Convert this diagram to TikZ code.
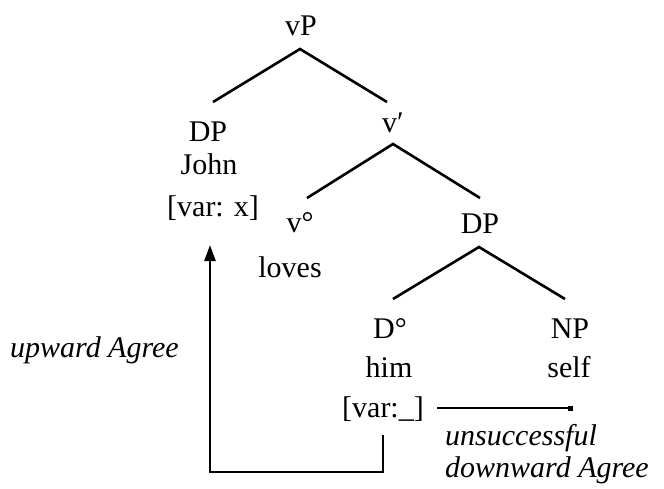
\documentclass[tikz,border=0pt]{standalone}
\usepackage{fontspec}
\setmainfont{Liberation Serif}
\usetikzlibrary{arrows.meta}
\begin{document}
\begin{tikzpicture}[x=1pt,y=1pt,
  lbl/.style={anchor=base,inner sep=0pt,font=\fontsize{30}{36}\selectfont},
  note/.style={anchor=base west,inner sep=0pt,font=\fontsize{30}{36}\selectfont\itshape},
  branch/.style={line width=2.6pt},
  agree/.style={line width=2.6pt}]
\useasboundingbox (0,0) rectangle (664,-488);
% tree labels
\node[lbl] (vP)   at (301,-35)  {vP};
\node[lbl] (DPa)  at (208,-141) {DP};
\node[lbl] (john) at (209,-174) {John};
\node[lbl] (varx) at (213,-216) {[var: x]};
\node[lbl] (vbar) at (393,-132) {v′};
\node[lbl] (v0)   at (300,-232) {v°};
\node[lbl] (loves) at (290,-277) {loves};
\node[lbl] (DPb)  at (480,-233) {DP};
\node[lbl] (D0)   at (390,-338) {D°};
\node[lbl] (him)  at (389,-377) {him};
\node[lbl] (vary) at (383,-417) {[var:\_]};
\node[lbl] (NP)   at (570,-338) {NP};
\node[lbl] (self) at (569,-377) {self};
% branches
\draw[branch] ([shift={(5pt,39pt)}]DPa.base) -- ([shift={(-1pt,-14pt)}]vP.base) -- ([shift={(-6pt,30pt)}]vbar.base);
\draw[branch] ([shift={(7pt,34pt)}]v0.base) -- ([yshift=-12pt]vbar.base) -- ([yshift=35pt]DPb.base);
\draw[branch] ([shift={(3pt,39pt)}]D0.base) -- ([shift={(-1pt,-14pt)}]DPb.base) -- ([shift={(-5pt,39pt)}]NP.base);
% upward Agree
\draw[agree,-{Triangle[length=16pt,width=11pt]}] ([yshift=-18pt]vary.base) -- ++(0,-37) -| ([shift={(-3pt,-29pt)}]varx.base);
% failed downward Agree
\coordinate (stop) at (573,-408);
\draw[agree,-{Square[length=5pt,width=5pt]}] ([shift={(13pt,9pt)}]vary.base east) -- (stop);
% annotations
\node[note] (up)   at (10,-357)  {upward Agree};
\node[note] (uns)  at (445,-445) {unsuccessful};
\node[note] (down) at (445,-477) {downward Agree};
\end{tikzpicture}
\end{document}
